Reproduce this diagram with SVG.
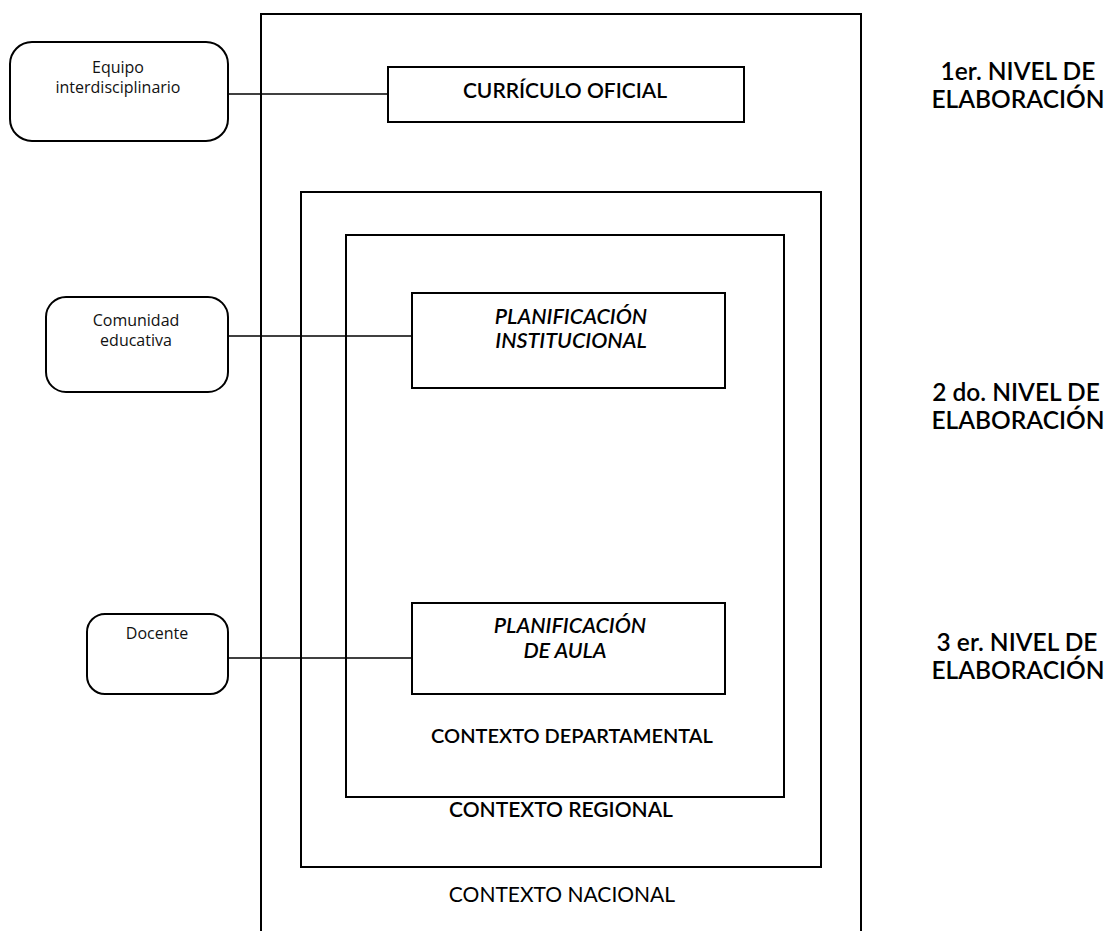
<svg xmlns="http://www.w3.org/2000/svg" width="1114" height="931" viewBox="0 0 1114 931">
<style>
.frame{fill:none;stroke:#000;stroke-width:2}
.box{fill:#fff;stroke:#000;stroke-width:2}
.conn{stroke:#000;stroke-width:1.5;fill:none}
.actor{font-family:"Open Sans","Noto Sans",sans-serif;font-size:16px;fill:#111;text-anchor:middle}
.head{font-family:Lato,"Open Sans",sans-serif;font-size:21px;font-weight:600;fill:#000;text-anchor:middle}
.ital{font-family:Lato,"Open Sans",sans-serif;font-size:21.5px;font-weight:600;font-style:italic;fill:#000;text-anchor:middle}
.ctx{font-family:Lato,"Open Sans",sans-serif;font-size:21px;fill:#000;text-anchor:middle}
.lvl{font-family:Lato,"Open Sans",sans-serif;font-size:24.5px;font-weight:600;fill:#000;text-anchor:middle}
</style>
<rect width="1114" height="931" fill="#fff"/>
<g id="contexto-nacional">
<rect class="frame" x="261" y="14" width="600" height="940"/>
<text class="ctx" x="562" y="902">CONTEXTO NACIONAL</text>
</g>
<g id="contexto-regional">
<rect class="frame" x="301" y="192" width="520" height="675"/>
<text class="head" x="561" y="817">CONTEXTO REGIONAL</text>
</g>
<g id="contexto-departamental">
<rect class="frame" x="346" y="235" width="438" height="562"/>
<text class="head" x="572" y="743" style="font-size:20px">CONTEXTO DEPARTAMENTAL</text>
</g>
<g id="connectors">
<line class="conn" x1="228" y1="94" x2="388" y2="94"/>
<line class="conn" x1="228" y1="336" x2="412" y2="336"/>
<line class="conn" x1="228" y1="658" x2="412" y2="658"/>
</g>
<g id="equipo">
<rect class="box" x="10" y="42" width="218" height="99" rx="22"/>
<text class="actor" x="118" y="73">Equipo</text>
<text class="actor" x="118" y="93">interdisciplinario</text>
</g>
<g id="comunidad">
<rect class="box" x="46" y="297" width="182" height="95" rx="20"/>
<text class="actor" x="136" y="326">Comunidad</text>
<text class="actor" x="136" y="346">educativa</text>
</g>
<g id="docente">
<rect class="box" x="87" y="614" width="141" height="80" rx="18"/>
<text class="actor" x="157" y="639">Docente</text>
</g>
<g id="curriculo">
<rect class="box" x="388" y="67" width="356" height="55"/>
<text class="head" x="565" y="98">CURRÍCULO OFICIAL</text>
</g>
<g id="plan-institucional">
<rect class="box" x="412" y="293" width="313" height="95"/>
<text class="ital" x="571" y="324">PLANIFICACIÓN</text>
<text class="ital" x="571" y="348">INSTITUCIONAL</text>
</g>
<g id="plan-aula">
<rect class="box" x="412" y="603" width="313" height="91"/>
<text class="ital" x="570" y="633">PLANIFICACIÓN</text>
<text class="ital" x="565" y="658">DE AULA</text>
</g>
<g id="niveles">
<text class="lvl" x="1018" y="80">1er. NIVEL DE</text>
<text class="lvl" x="1018" y="108">ELABORACIÓN</text>
<text class="lvl" x="1016" y="401">2 do. NIVEL DE</text>
<text class="lvl" x="1018" y="429">ELABORACIÓN</text>
<text class="lvl" x="1017" y="651">3 er. NIVEL DE</text>
<text class="lvl" x="1018" y="679">ELABORACIÓN</text>
</g>
</svg>
